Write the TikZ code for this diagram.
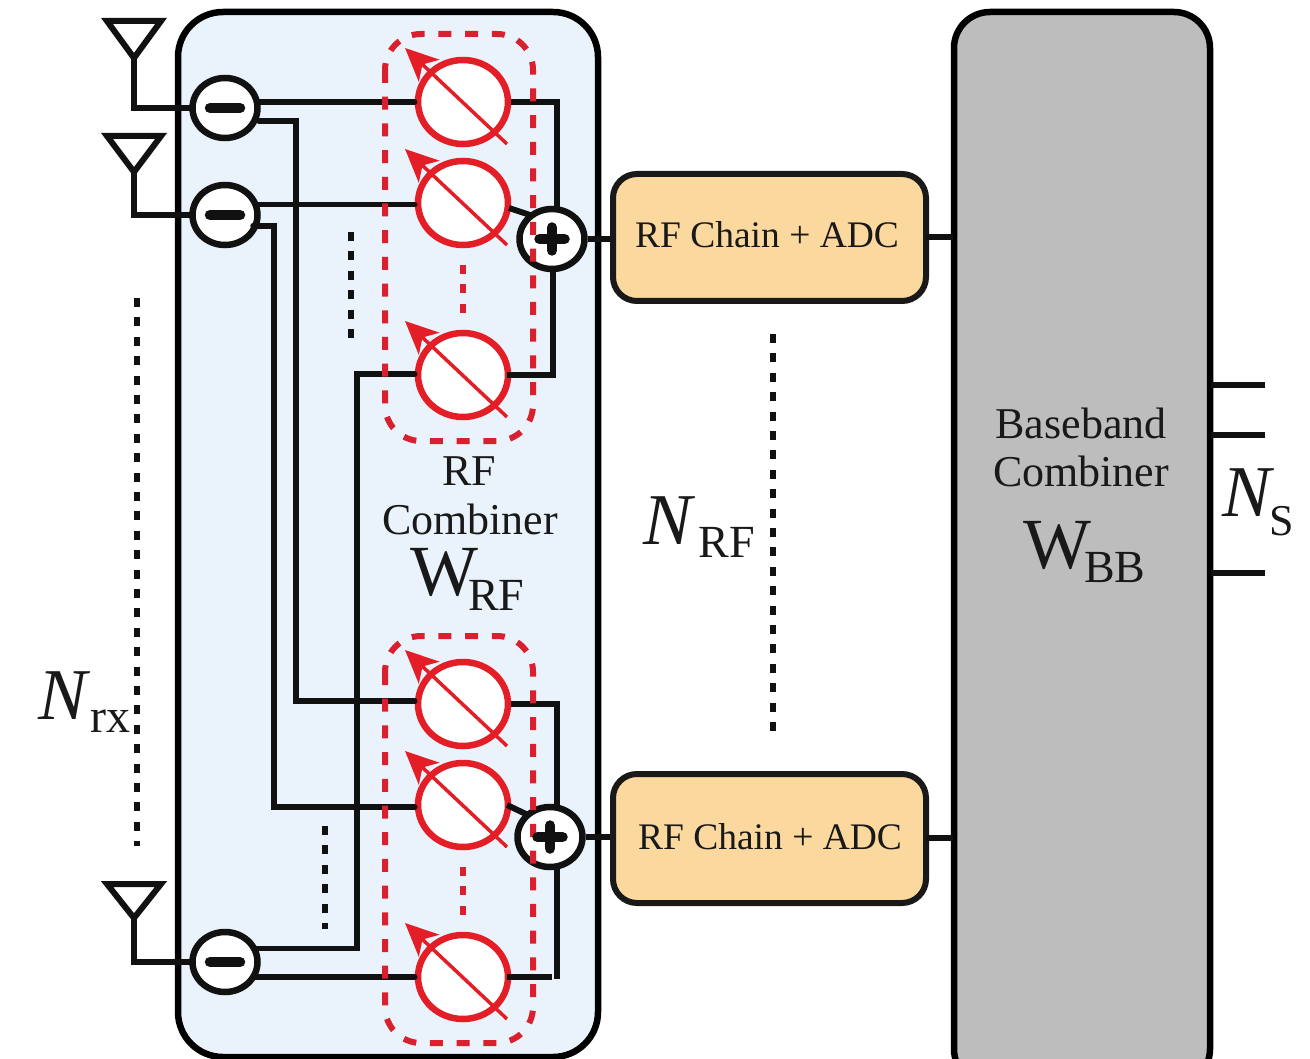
\documentclass[tikz,border=0pt]{standalone}
\usepackage{fontspec}
\setmainfont{Liberation Serif}
\usetikzlibrary{shapes.geometric,arrows.meta}
\definecolor{wire}{HTML}{111111}
\definecolor{psred}{HTML}{E31E26}
\definecolor{dashred}{HTML}{D9202E}
\definecolor{panelblue}{HTML}{EAF3FB}
\definecolor{peach}{HTML}{FBD89E}
\definecolor{bbgray}{HTML}{BDBDBD}
\newlength{\pxu}\setlength{\pxu}{0.75pt}
\newcommand{\fsz}[1]{\fontsize{#1\pxu}{#1\pxu}\selectfont}
\tikzset{
  x=0.75pt,y=-0.75pt,
  wireline/.style={draw=wire,line width=5.5\pxu,line cap=round,line join=miter},
  stubline/.style={draw=wire,line width=6\pxu},
  panel/.style={draw=black,line width=6.5\pxu,fill=panelblue,rounded corners=45\pxu},
  bbpanel/.style={draw=black,line width=6.5\pxu,fill=bbgray,rounded corners=36\pxu},
  chainbox/.style={draw=black!90,line width=6\pxu,fill=peach,rounded corners=24\pxu},
  mixer/.style={ellipse,draw=wire,line width=6.5\pxu,fill=white,minimum width=65\pxu,minimum height=60\pxu,inner sep=0pt},
  shifter/.style={ellipse,draw=psred,line width=6.5\pxu,fill=white,minimum width=90\pxu,minimum height=84\pxu,inner sep=0pt},
  ant/.style={draw=wire,line width=6\pxu,line join=miter},
  pmbar/.style={draw=wire,line width=10.5\pxu,line cap=round},
  sharp/.style={draw=psred,line width=3.5\pxu,-{Stealth[length=24.75pt,width=22.5pt,inset=6.75pt]}},
  redgroup/.style={draw=dashred,line width=6\pxu,dash pattern=on 13\pxu off 13.7\pxu,rounded corners=36\pxu},
  dotsblack/.style={draw=wire,line width=6.5\pxu,dash pattern=on 9\pxu off 10.4\pxu},
  dotsred/.style={draw=dashred,line width=6\pxu,dash pattern=on 9\pxu off 10.4\pxu},
  lab/.style={inner sep=0pt,align=center,text=black!90},
}
\begin{document}
\begin{tikzpicture}
\useasboundingbox (0,0) rectangle (1310,1059);
\clip (0,0) rectangle (1310,1059);
% containers
\path[panel] (178,12) rectangle (598,1057);
\path[bbpanel] (954,12) rectangle (1210,1085);
% dots
\coordinate (dA1) at (137,298); \coordinate (dA2) at (137,846);
\coordinate (dB1) at (351,232); \coordinate (dB2) at (351,339);
\coordinate (dC1) at (325,826); \coordinate (dC2) at (325,929);
\coordinate (dD1) at (773,334); \coordinate (dD2) at (773,732);
\path[dotsblack] (dA1) -- (dA2);
\path[dotsblack] (dB1) -- (dB2);
\path[dotsblack] (dC1) -- (dC2);
\path[dotsblack] (dD1) -- (dD2);
% nodes
\node[mixer] (m1) at (225,108) {};
\node[mixer] (m2) at (225,215) {};
\node[mixer] (m3) at (225,962) {};
\foreach \n/\y in {p1/102,p2/203,p3/375,p4/704,p5/805,p6/977}{
  \node[shifter] (\n) at (463,\y) {};
}
\node[chainbox,minimum width=313\pxu,minimum height=127\pxu,inner sep=0pt] (c1) at (769.5,237.5) {};
\node[chainbox,minimum width=313\pxu,minimum height=129\pxu,inner sep=0pt] (c2) at (769.5,838.5) {};
\node[lab,font=\fsz{37.5}] at (767,235) {RF Chain + ADC};
\node[lab,font=\fsz{37.5}] at (770,837) {RF Chain + ADC};
% antennas
\foreach \n/\t/\a/\b in {a1/21/58/108,a2/136/172/215,a3/884/918/962}{
  \coordinate (\n) at (134,\a);
  \coordinate (\n f) at (134,\b);
  \path[ant] (107,\t) -- (161,\t) -- (\n) -- cycle;
}
\path[wireline] (a1) -- (a1f) -- (m1.west);
\path[wireline] (a2) -- (a2f) -- (m2.west);
\path[wireline] (a3) -- (a3f) -- (m3.west);
% wiring
\coordinate (j1a) at (296,121);
\coordinate (j1b) at (296,701);
\coordinate (j2a) at (274,226);
\coordinate (j2b) at (274,807);
\coordinate (j3a) at (357,948.5);
\coordinate (j3b) at (357,374);
\path[wireline] (259,102) -- (p1.west |- 0,102);
\path[wireline] (259,121) -- (j1a) -- (j1b) -- (p4.west |- j1b);
\path[wireline] (258,204.5) -- (p2.west |- 0,204.5);
\path[wireline] (253,226) -- (j2a) -- (j2b) -- (p5.west |- j2b);
\path[wireline] (255,948.5) -- (j3a) -- (j3b) -- (p3.west |- j3b);
\path[wireline] (255,977) -- (p6.west);
% right-hand summing
\path[stubline] (p1.east |- 0,102) -- (557,102) -- (557,210);
\path[stubline] (509,208) -- (533,216);
\path[stubline] (507,375) -- (553,375) -- (553,270);
\path[stubline] (p4.east |- 0,704) -- (557,704) -- (557,808);
\path[stubline] (507,805) -- (528,815);
\path[stubline] (507,977) -- (552,977);
\path[stubline] (557,868) -- (557,979);
\node[mixer] (s1) at (552,239) {};
\node[mixer] (s2) at (550,837) {};
% red dashed groups
\path[redgroup] (385,34) rectangle (533,441);
\path[redgroup] (385,636) rectangle (533,1043);
\coordinate (r1a) at (463,265); \coordinate (r1b) at (463,314);
\coordinate (r2a) at (463,867); \coordinate (r2b) at (463,916);
\path[dotsred] (r1a) -- (r1b);
\path[dotsred] (r2a) -- (r2b);
% shifter arrows
\foreach \n/\y in {p1/102,p2/203,p3/375,p4/704,p5/805,p6/977}{
  \draw[sharp] (507,\y+42) -- (405,\y-54);
}
% plus / minus glyphs
\foreach \n in {m1,m2,m3}{
  \path[pmbar] ([xshift=-15\pxu]\n.center) -- ([xshift=15\pxu]\n.center);
}
\foreach \n in {s1,s2}{
  \path[pmbar] ([xshift=-12.5\pxu]\n.center) -- ([xshift=12.5\pxu]\n.center);
  \path[pmbar] ([yshift=-11.5\pxu]\n.center) -- ([yshift=11.5\pxu]\n.center);
}
% outputs
\path[stubline] (s1.east) -- (c1.west |- s1);
\path[stubline] (s2.east) -- (c2.west |- s2);
\path[stubline] (926,237) -- (953,237);
\path[stubline] (926,838) -- (953,838);
\foreach \y in {385,435,573}{
  \coordinate (o\y) at (1265,\y);
  \path[stubline] (1211,\y) -- (o\y);
}
% labels
\node[lab,font=\fsz{44},anchor=base] at (469,485) {RF};
\node[lab,font=\fsz{44},anchor=base] at (470,534) {Combiner};
\node[lab,font=\fsz{72},anchor=base west] at (410,595) {W\hspace{-10\pxu}\raisebox{-15\pxu}{\fsz{46}RF}};
\node[lab,font=\fsz{44},anchor=base] at (1081,438) {Baseband};
\node[lab,font=\fsz{44},anchor=base] at (1081,486) {Combiner};
\node[lab,font=\fsz{72},anchor=base west] at (1023,568) {W\hspace{-7\pxu}\raisebox{-14\pxu}{\fsz{46}BB}};
\node[lab,font=\fsz{73},anchor=base west] at (643,544) {\textit{N}\hspace{3\pxu}\raisebox{-13\pxu}{\fsz{46}RF}};
\node[lab,font=\fsz{73},anchor=base west] at (38,719) {\textit{N}\hspace{0\pxu}\raisebox{-13\pxu}{\fsz{48}rx}};
\node[lab,font=\fsz{73},anchor=base west] at (1222,516) {\textit{N}\hspace{-5\pxu}\raisebox{-19\pxu}{\fsz{44}S}};
\end{tikzpicture}
\end{document}
